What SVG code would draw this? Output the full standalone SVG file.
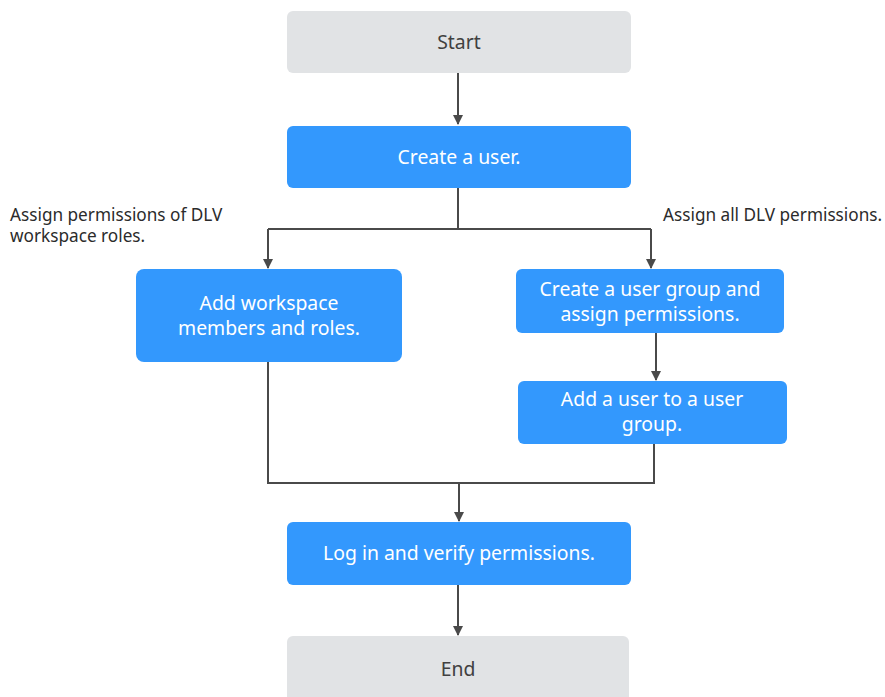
<svg xmlns="http://www.w3.org/2000/svg" width="885" height="697" viewBox="0 0 885 697">
<defs>
<marker id="arr" markerWidth="10" markerHeight="10" refX="9" refY="5" orient="auto" markerUnits="userSpaceOnUse"><path d="M0,0 L10,5 L0,10 z" fill="#4a4a4a"/></marker>
<style>
.gray{fill:#e1e3e5}
.blue{fill:#3398fd}
.t{font-family:"Noto Sans","Open Sans",sans-serif;font-size:19.4px;text-anchor:middle}
.dk{fill:#404040}
.wh{fill:#ffffff}
.lbl{font-family:"Noto Sans","Open Sans",sans-serif;font-size:17.2px;fill:#2b2b2b}
.ln{fill:none;stroke:#4a4a4a;stroke-width:2}
</style>
</defs>
<rect width="885" height="697" fill="#ffffff"/>
<g id="connectors">
<path class="ln" d="M458,73 V124" marker-end="url(#arr)"/>
<path class="ln" d="M458,188 V229 M268,229 H651"/>
<path class="ln" d="M268,229 V268" marker-end="url(#arr)"/>
<path class="ln" d="M651,229 V268" marker-end="url(#arr)"/>
<path class="ln" d="M656,333 V380" marker-end="url(#arr)"/>
<path class="ln" d="M268,362 V483 H654 V444"/>
<path class="ln" d="M459,483 V521" marker-end="url(#arr)"/>
<path class="ln" d="M458,585 V635" marker-end="url(#arr)"/>
</g>
<g id="label-left"><text class="lbl" x="10" y="221">Assign permissions of DLV</text><text class="lbl" x="10" y="242">workspace roles.</text></g>
<g id="label-right"><text class="lbl" x="663" y="221">Assign all DLV permissions.</text></g>
<g id="start"><rect class="gray" x="287" y="11" width="344" height="62" rx="6"/><text class="t dk" x="459" y="49">Start</text></g>
<g id="create-user"><rect class="blue" x="287" y="126" width="344" height="62" rx="6"/><text class="t wh" x="459" y="164">Create a user.</text></g>
<g id="add-workspace"><rect class="blue" x="136" y="269" width="266" height="93" rx="8"/><text class="t wh" x="269" y="310">Add workspace</text><text class="t wh" x="269" y="335">members and roles.</text></g>
<g id="create-group"><rect class="blue" x="516" y="269" width="268" height="64" rx="6"/><text class="t wh" x="650" y="296">Create a user group and</text><text class="t wh" x="650" y="321">assign permissions.</text></g>
<g id="add-user-group"><rect class="blue" x="518" y="381" width="269" height="63" rx="6"/><text class="t wh" x="652" y="406">Add a user to a user</text><text class="t wh" x="652" y="431">group.</text></g>
<g id="login"><rect class="blue" x="287" y="522" width="344" height="63" rx="6"/><text class="t wh" x="459" y="560">Log in and verify permissions.</text></g>
<g id="end"><rect class="gray" x="287" y="636" width="342" height="66" rx="6"/><text class="t dk" x="458" y="676">End</text></g>
</svg>
